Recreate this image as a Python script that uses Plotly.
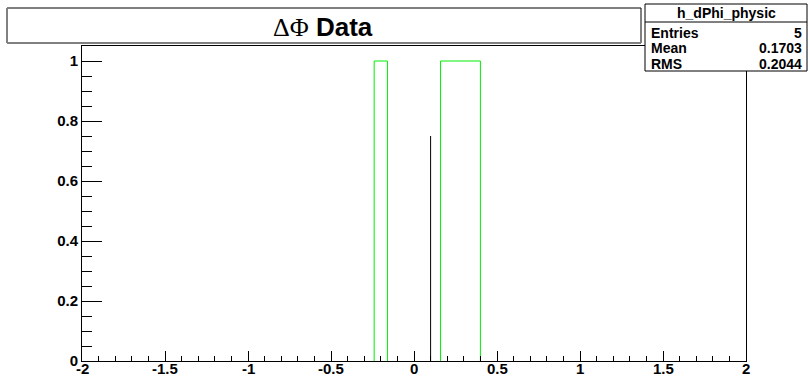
import plotly.graph_objects as go

# Histogram h_dPhi_physic: 50 bins on [-2, 2]
x_min = -2.0
x_max = 2.0
bin_edges = [round(-2.0 + 0.08 * i, 2) for i in range(51)]
counts = [0, 0, 0, 0, 0, 0, 0, 0, 0, 0,
          0, 0, 0, 0, 0, 0, 0, 0, 0, 0,
          0, 0, 1, 0, 0, 0, 0, 1, 1, 1,
          0, 0, 0, 0, 0, 0, 0, 0, 0, 0,
          0, 0, 0, 0, 0, 0, 0, 0, 0, 0]

# Vertical marker line
marker_x = 0.1
marker_height = 0.75

# Axis ticks
x_tick_vals = [-2, -1.5, -1, -0.5, 0, 0.5, 1, 1.5, 2]
x_tick_text = ["-2", "-1.5", "-1", "-0.5", "0", "0.5", "1", "1.5", "2"]
y_tick_vals = [0, 0.2, 0.4, 0.6, 0.8, 1.0]
y_tick_text = ["0", "0.2", "0.4", "0.6", "0.8", "1"]

# Stats box text
stats_name = "h_dPhi_physic"
stats_labels = ["Entries", "Mean", "RMS"]
stats_values = ["5", "0.1703", "0.2044"]

y_max = 1.05

W, H = 810, 376
L, R, T, B = 82, 746, 46, 361

# step outline of the histogram; stretches at zero lie on the axis line,
# so each run of filled bins is drawn as its own closed-to-baseline path
step_x, step_y = [], []
i = 0
while i < len(counts):
    if counts[i] > 0:
        step_x.append(bin_edges[i])
        step_y.append(0)
        while i < len(counts) and counts[i] > 0:
            step_x += [bin_edges[i], bin_edges[i + 1]]
            step_y += [counts[i], counts[i]]
            i += 1
        step_x += [bin_edges[i], None]
        step_y += [0, None]
    else:
        i += 1

fig = go.Figure()
fig.add_trace(go.Scatter(x=step_x, y=step_y, mode="lines", connectgaps=False,
                         line=dict(color="#00ee00", width=1),
                         hoverinfo="skip"))
fig.add_trace(go.Scatter(x=[marker_x, marker_x], y=[0, marker_height], mode="lines",
                         line=dict(color="black", width=1), hoverinfo="skip"))

font_b = "Liberation Sans"

fig.update_layout(
    width=W, height=H,
    margin=dict(l=L, r=W - R, t=T, b=H - B, pad=0, autoexpand=False),
    paper_bgcolor="white", plot_bgcolor="white",
    showlegend=False,
    xaxis=dict(range=[x_min, x_max], showgrid=False, zeroline=False, automargin=False,
               showline=True, mirror=True, linecolor="black", linewidth=1,
               ticks="inside", ticklen=10, tickcolor="black", tickwidth=1,
               tickvals=x_tick_vals, showticklabels=False,
               minor=dict(ticks="inside", ticklen=5, dtick=0.1, tick0=0,
                          tickcolor="black", tickwidth=1, showgrid=False)),
    yaxis=dict(range=[0, y_max], showgrid=False, zeroline=False, automargin=False,
               showline=True, mirror=True, linecolor="black", linewidth=1,
               ticks="inside", ticklen=20, tickcolor="black", tickwidth=1,
               tickvals=y_tick_vals, ticktext=y_tick_text,
               tickfont=dict(family=font_b, size=15, color="black", weight="bold"),
               minor=dict(ticks="inside", ticklen=10, dtick=0.05, tick0=0,
                          tickcolor="black", tickwidth=1, showgrid=False)),
)


def px(xp):
    return (xp - L) / (R - L)


def py(yp):
    return (B - yp) / (B - T)


shapes = []
# title box with shadow
shapes.append(dict(type="rect", xref="paper", yref="paper",
                   x0=px(7), x1=px(641), y0=py(43), y1=py(8),
                   line=dict(color="black", width=1), fillcolor="white", layer="above"))
shapes.append(dict(type="line", xref="paper", yref="paper",
                   x0=px(7), x1=px(641), y0=py(43), y1=py(43),
                   line=dict(color="#808080", width=2), layer="above"))
shapes.append(dict(type="line", xref="paper", yref="paper",
                   x0=px(7), x1=px(7), y0=py(43), y1=py(8),
                   line=dict(color="#808080", width=2), layer="above"))
# stats box
sx0, sx1, sy0, sy1 = 645, 807, 4, 71
shapes.append(dict(type="rect", xref="paper", yref="paper",
                   x0=px(sx0), x1=px(sx1), y0=py(sy1), y1=py(sy0),
                   line=dict(color="black", width=1), fillcolor="white", layer="above"))
shapes.append(dict(type="line", xref="paper", yref="paper",
                   x0=px(sx0), x1=px(sx1), y0=py(22), y1=py(22),
                   line=dict(color="black", width=1), layer="above"))
fig.update_layout(shapes=shapes)

ann = []
# x tick labels sit right under the axis
for v, t in zip(x_tick_vals, x_tick_text):
    ann.append(dict(xref="x", yref="paper", x=v, y=py(368),
                    text="<b>" + t + "</b>", showarrow=False,
                    xanchor="center", yanchor="middle",
                    font=dict(family=font_b, size=15, color="black")))
ann.append(dict(xref="paper", yref="paper", x=px(323), y=py(27),
                text="<span style='font-family:Liberation Serif;font-weight:normal'>ΔΦ</span> <b>Data</b>",
                showarrow=False, xanchor="center", yanchor="middle",
                font=dict(family=font_b, size=26, color="black")))
ann.append(dict(xref="paper", yref="paper", x=px((sx0 + sx1) / 2), y=py(13),
                text="<b>" + stats_name + "</b>", showarrow=False,
                xanchor="center", yanchor="middle",
                font=dict(family=font_b, size=14, color="black")))
for i, (lab, val) in enumerate(zip(stats_labels, stats_values)):
    yy = 33 + 15.5 * i
    ann.append(dict(xref="paper", yref="paper", x=px(649), y=py(yy),
                    text="<b>" + lab + "</b>", showarrow=False,
                    xanchor="left", yanchor="middle",
                    font=dict(family=font_b, size=14, color="black")))
    ann.append(dict(xref="paper", yref="paper", x=px(804), y=py(yy),
                    text="<b>" + val + "</b>", showarrow=False,
                    xanchor="right", yanchor="middle",
                    font=dict(family=font_b, size=14, color="black")))
fig.update_layout(annotations=ann)

fig.write_html("out.html")
